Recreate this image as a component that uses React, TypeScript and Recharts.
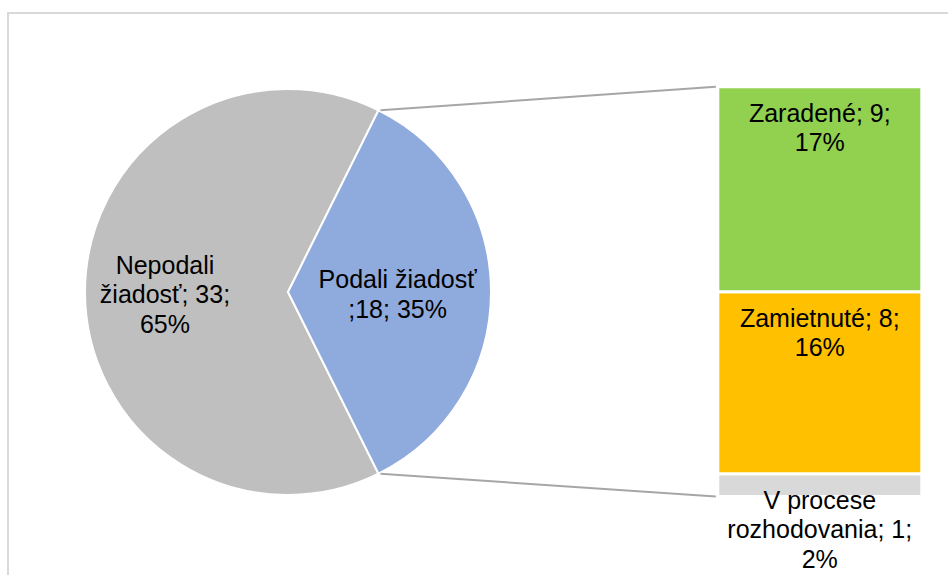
import { Bar, BarChart, Cell, Pie, PieChart, XAxis, YAxis } from 'recharts'

const PIE_CATEGORIES = ['Nepodali žiadosť', 'Podali žiadosť']
const PIE_VALUES = [33, 18]
const PIE_PERCENTS = [65, 35]
const PIE_COLORS = ['#bfbfbf', '#8faadc']

const BAR_CATEGORIES = ['Zaradené', 'Zamietnuté', 'V procese rozhodovania']
const BAR_VALUES = [9, 8, 1]
const BAR_PERCENTS = [17, 16, 2]
const BAR_COLORS = ['#92d050', '#ffc000', '#d9d9d9']

const WIDTH = 948
const HEIGHT = 575
const FONT = '"Liberation Sans", Arial, sans-serif'
const FONT_SIZE = 25
const LINE_HEIGHT = 29.5

// layout of the pie and the bar beside it
const PIE_CX = 288
const PIE_CY = 292
const PIE_R = 203
const PIE_LABEL_RADIUS = [0.606, 0.54]
const PIE_WRAP = [12, 14]

const BAR_LEFT = 717.8
const BAR_RIGHT = 922.2
const BAR_TOP = 86.8
const BAR_BOTTOM = 496.5
const BAR_WRAP = [14, 14, 16]

const RAD = Math.PI / 180

// greedy wrap like Excel does it, a trailing ';' may drop to the next line
function wrapLabel(text: string, maxChars: number): string[] {
  const words = text.split(' ')
  const lines: string[] = []
  let line = ''
  let carry = ''
  for (const raw of words) {
    const word = carry + raw
    carry = ''
    const candidate = line ? `${line} ${word}` : word
    if (candidate.length <= maxChars || !line) {
      line = candidate
      continue
    }
    const trimmed = `${line} ${word.slice(0, -1)}`
    if (word.endsWith(';') && trimmed.length <= maxChars) {
      lines.push(trimmed)
      line = ''
      carry = ';'
      continue
    }
    lines.push(line)
    line = word
  }
  if (carry) line = line ? `${line} ${carry}` : carry
  if (line) lines.push(line)
  return lines
}

const pieData = PIE_CATEGORIES.map((name, i) => ({
  name,
  value: PIE_VALUES[i],
  pct: PIE_PERCENTS[i],
}))

const barRow: Record<string, string | number> = { name: PIE_CATEGORIES[1] }
BAR_VALUES.forEach((v, i) => {
  barRow[`b${i}`] = v
})
const barData = [barRow]
const barTotal = BAR_VALUES.reduce((a, b) => a + b, 0)
const pieTotal = PIE_VALUES.reduce((a, b) => a + b, 0)

function MultiLineText({ x, y, lines }: { x: number; y: number; lines: string[] }) {
  return (
    <text
      x={x}
      y={y}
      textAnchor="middle"
      fill="#000"
      fontFamily={FONT}
      fontSize={FONT_SIZE}
    >
      {lines.map((l, i) => (
        <tspan key={i} x={x} y={y + i * LINE_HEIGHT}>
          {l}
        </tspan>
      ))}
    </text>
  )
}

function renderPieLabel(props: any) {
  const { cx, cy, midAngle, outerRadius, index, percent } = props
  const item = pieData[index]
  const lines = wrapLabel(`${item.name}; ${item.value}; ${item.pct}%`, PIE_WRAP[index])
  const r = outerRadius * PIE_LABEL_RADIUS[index]
  const lx = cx + r * Math.cos(-midAngle * RAD)
  const centerY = cy + r * Math.sin(-midAngle * RAD) + 2
  const firstBaseline = centerY - ((lines.length - 1) * LINE_HEIGHT) / 2 + 9

  let connectors = null
  if (index === 1) {
    const half = percent * 180
    const a1 = midAngle + half
    const a2 = midAngle - half
    const p1 = [cx + outerRadius * Math.cos(-a1 * RAD) + 2, cy + outerRadius * Math.sin(-a1 * RAD)]
    const p2 = [cx + outerRadius * Math.cos(-a2 * RAD) + 2, cy + outerRadius * Math.sin(-a2 * RAD)]
    connectors = (
      <g stroke="#a6a6a6" strokeWidth={2}>
        <line x1={p1[0]} y1={p1[1]} x2={BAR_LEFT - 2} y2={BAR_TOP} />
        <line x1={p2[0]} y1={p2[1]} x2={BAR_LEFT - 2} y2={BAR_BOTTOM} />
      </g>
    )
  }

  return (
    <g key={`pl-${index}`}>
      {connectors}
      <MultiLineText x={lx} y={firstBaseline} lines={lines} />
    </g>
  )
}

function makeBarLabel(i: number) {
  return (props: any) => {
    const { x, y, width } = props
    const lines = wrapLabel(
      `${BAR_CATEGORIES[i]}; ${BAR_VALUES[i]}; ${BAR_PERCENTS[i]}%`,
      BAR_WRAP[i],
    )
    return <MultiLineText x={x + width / 2} y={y + 35} lines={lines} />
  }
}

export default function App() {
  const blueHalf = (180 * PIE_VALUES[1]) / pieTotal
  const order = BAR_VALUES.map((_, i) => i).reverse()

  return (
    <div
      style={{
        position: 'fixed',
        left: 0,
        top: 0,
        width: WIDTH,
        height: HEIGHT,
        overflow: 'hidden',
        background: '#fff',
      }}
    >
      <div
        style={{
          position: 'absolute',
          left: 7,
          top: 12,
          width: 1000,
          height: 700,
          border: '2px solid #d9d9d9',
        }}
      />
      <div style={{ position: 'absolute', left: 0, top: 0 }}>
        <BarChart
          width={WIDTH}
          height={HEIGHT}
          data={barData}
          barCategoryGap={0}
          margin={{
            top: BAR_TOP,
            bottom: HEIGHT - BAR_BOTTOM,
            left: BAR_LEFT,
            right: WIDTH - BAR_RIGHT,
          }}
        >
          <XAxis dataKey="name" hide />
          <YAxis type="number" domain={[0, barTotal]} hide />
          {order.map((i) => (
            <Bar
              key={i}
              dataKey={`b${i}`}
              stackId="split"
              fill={BAR_COLORS[i]}
              stroke="#fff"
              strokeWidth={3}
              isAnimationActive={false}
              label={makeBarLabel(i)}
            />
          ))}
        </BarChart>
      </div>
      <div style={{ position: 'absolute', left: 0, top: 0 }}>
        <PieChart width={WIDTH} height={HEIGHT} margin={{ top: 0, right: 0, bottom: 0, left: 0 }}>
          <Pie
            data={pieData}
            dataKey="value"
            nameKey="name"
            cx={PIE_CX}
            cy={PIE_CY}
            outerRadius={PIE_R}
            startAngle={blueHalf}
            endAngle={blueHalf + 360}
            stroke="#fff"
            strokeWidth={2}
            labelLine={false}
            label={renderPieLabel}
            isAnimationActive={false}
          >
            {pieData.map((d, i) => (
              <Cell key={d.name} fill={PIE_COLORS[i]} />
            ))}
          </Pie>
        </PieChart>
      </div>
    </div>
  )
}
